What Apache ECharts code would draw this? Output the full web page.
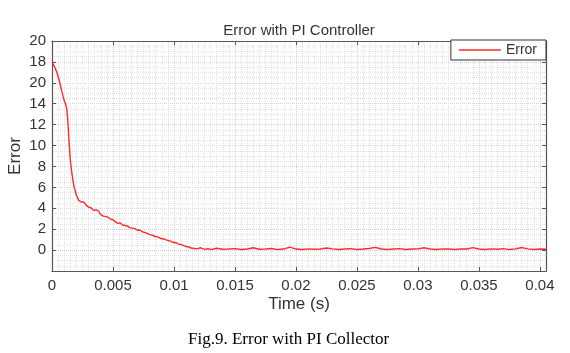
<!DOCTYPE html>
<html>
<head>
<meta charset="utf-8">
<script src="https://cdn.jsdelivr.net/npm/echarts@6/dist/echarts.min.js"></script>
<style>
html,body{margin:0;padding:0;background:#fff;}
#errChart{width:570px;height:353px;}
</style>
</head>
<body>
<div id="errChart"></div>
<script>
// data
var timeVals = [0, 0.0002, 0.0004, 0.0006, 0.0008, 0.001, 0.0011, 0.0012, 0.0013, 0.0014,
    0.0015, 0.0016, 0.0017, 0.0018, 0.0019,
    0.002, 0.0022, 0.0024, 0.0026, 0.0028, 0.003, 0.0032, 0.0034, 0.0036, 0.0038,
    0.004, 0.0042, 0.0044, 0.0046, 0.0048, 0.005, 0.0052, 0.0054, 0.0056, 0.0058,
    0.006, 0.0062, 0.0064, 0.0066, 0.0068, 0.007, 0.0072, 0.0074, 0.0076, 0.0078,
    0.008, 0.0082, 0.0084, 0.0086, 0.0088, 0.009, 0.0092, 0.0094, 0.0096, 0.0098,
    0.01, 0.0102, 0.0104, 0.0106, 0.0108, 0.011, 0.0112, 0.0114, 0.0116, 0.0118,
    0.012, 0.0122, 0.0124, 0.0126, 0.0128, 0.013,
    0.0135, 0.014, 0.0145, 0.015, 0.0155, 0.016, 0.0165, 0.017, 0.0175, 0.018,
    0.0185, 0.019, 0.0195, 0.02, 0.0205, 0.021, 0.0215, 0.022, 0.0225, 0.023,
    0.0235, 0.024, 0.0245, 0.025, 0.0255, 0.026, 0.0265, 0.027, 0.0275, 0.028,
    0.0285, 0.029, 0.0295, 0.03, 0.0305, 0.031, 0.0315, 0.032, 0.0325, 0.033,
    0.0335, 0.034, 0.0345, 0.035, 0.0355, 0.036, 0.0365, 0.037, 0.0375, 0.038,
    0.0385, 0.039, 0.0395, 0.04, 0.0405];
var errorVals = [18, 17.55, 17.0, 16.2, 15.2, 14.3, 14.0, 13.6, 12.3, 10.3,
    8.6, 7.6, 6.8, 6.1, 5.7,
    5.25, 4.75, 4.6, 4.6, 4.3, 4.1, 4.05, 3.8, 3.85, 3.75,
    3.4, 3.25, 3.2, 3.15, 2.95, 2.9, 2.7, 2.55, 2.6, 2.4,
    2.35, 2.3, 2.12, 2.1, 2.05, 1.9, 1.92, 1.75, 1.7, 1.6,
    1.48, 1.45, 1.32, 1.28, 1.2, 1.08, 1.06, 0.95, 0.9, 0.8,
    0.72, 0.7, 0.56, 0.52, 0.42, 0.34, 0.3, 0.2, 0.18, 0.12,
    0.16, 0.22, 0.12, 0.08, 0.14, 0.05,
    0.18, 0.08, 0.1, 0.14, 0.06, 0.1, 0.22, 0.08, 0.1, 0.15,
    0.05, 0.1, 0.28, 0.1, 0.06, 0.12, 0.08, 0.1, 0.2, 0.12,
    0.06, 0.1, 0.14, 0.06, 0.1, 0.15, 0.26, 0.1, 0.05, 0.1,
    0.14, 0.06, 0.1, 0.12, 0.22, 0.1, 0.06, 0.12, 0.1, 0.05,
    0.12, 0.1, 0.24, 0.1, 0.06, 0.12, 0.08, 0.14, 0.05, 0.12,
    0.25, 0.12, 0.06, 0.1, 0.08];
// y tick labels as printed in the figure (the 16 position reads "20")
var yTickVals = [0, 2, 4, 6, 8, 10, 12, 14, 16, 18, 20];
var yTickLabels = ['0', '2', '4', '6', '8', '10', '12', '14', '20', '18', '20'];
var xTickLabels = ['0', '0.005', '0.01', '0.015', '0.02', '0.025', '0.03', '0.035', '0.04'];

var seriesData = [];
for (var i = 0; i < timeVals.length; i++) {
    seriesData.push([timeVals[i], errorVals[i]]);
}

var chart = echarts.init(document.getElementById('errChart'), null, {renderer: 'canvas'});
var axisCol = '#555';
var font = 'Liberation Sans, Arial, sans-serif';

option = {
    animation: false,
    backgroundColor: '#fff',
    title: {
        text: 'Error with PI Controller',
        left: 294,
        top: 18,
        textAlign: 'center',
        textStyle: {fontFamily: font, fontSize: 15, fontWeight: 'normal', color: '#333'}
    },
    legend: {
        data: [{name: 'Error', icon: 'rect'}],
        right: 24,
        top: 40,
        orient: 'vertical',
        itemWidth: 42,
        itemHeight: 1.5,
        itemGap: 0,
        padding: [3, 9, 3, 8],
        borderColor: '#333',
        borderWidth: 1,
        borderRadius: 0,
        backgroundColor: '#fff',
        textStyle: {fontFamily: font, fontSize: 14, color: '#333', padding: [0, 0, 0, 0]}
    },
    grid: {left: 52, right: 24, top: 41, bottom: 82, containLabel: false, outerBoundsMode: 'none'},
    xAxis: [
        {
            type: 'value',
            min: 0,
            max: 0.0405,
            interval: 0.005,
            name: 'Time (s)',
            nameLocation: 'middle',
            nameGap: 25,
            nameMoveOverlap: false,
            nameTextStyle: {fontFamily: font, fontSize: 17, color: '#333'},
            axisLine: {show: true, onZero: false, lineStyle: {color: axisCol, width: 1.2}},
            axisTick: {show: true, inside: true, length: 4, lineStyle: {color: axisCol}},
            axisLabel: {
                margin: 7, fontFamily: font, fontSize: 15, color: '#333', showMaxLabel: false,
                formatter: function (v) {
                    var k = Math.round(v / 0.005);
                    return Math.abs(v - k * 0.005) < 1e-9 && xTickLabels[k] !== undefined ? xTickLabels[k] : '';
                }
            },
            splitLine: {show: true, lineStyle: {color: '#d4d4d4', type: 'dotted'}},
            minorTick: {show: false, splitNumber: 10},
            minorSplitLine: {show: true, lineStyle: {color: '#e2e2e2', type: 'dotted'}}
        },
        {
            type: 'value',
            position: 'top',
            min: 0,
            max: 0.0405,
            interval: 0.005,
            axisLine: {show: true, onZero: false, lineStyle: {color: axisCol, width: 1.2}},
            axisTick: {show: true, inside: true, length: 4, lineStyle: {color: axisCol}},
            axisLabel: {show: false},
            splitLine: {show: false}
        }
    ],
    yAxis: [
        {
            type: 'value',
            min: -2,
            max: 20,
            interval: 2,
            name: 'Error',
            nameLocation: 'middle',
            nameGap: 28,
            nameMoveOverlap: false,
            nameTextStyle: {fontFamily: font, fontSize: 17, color: '#333'},
            axisLine: {show: true, onZero: false, lineStyle: {color: axisCol, width: 1.2}},
            axisTick: {
                show: true, inside: true, length: 4, lineStyle: {color: axisCol},
                customValues: yTickVals
            },
            axisLabel: {
                margin: 6, fontFamily: font, fontSize: 15, color: '#333',
                customValues: yTickVals,
                formatter: function (v) {
                    var idx = yTickVals.indexOf(Math.round(v));
                    return idx >= 0 ? yTickLabels[idx] : '';
                }
            },
            splitLine: {show: true, lineStyle: {color: '#d4d4d4', type: 'dotted'}},
            minorTick: {show: false, splitNumber: 4},
            minorSplitLine: {show: true, lineStyle: {color: '#e2e2e2', type: 'dotted'}}
        },
        {
            type: 'value',
            position: 'right',
            min: -2,
            max: 20,
            interval: 2,
            axisLine: {show: true, onZero: false, lineStyle: {color: axisCol, width: 1.2}},
            axisTick: {show: true, inside: true, length: 4, lineStyle: {color: axisCol}, customValues: yTickVals},
            axisLabel: {show: false},
            splitLine: {show: false}
        }
    ],
    series: [
        {
            name: 'Error',
            type: 'line',
            xAxisIndex: 0,
            yAxisIndex: 0,
            data: seriesData,
            symbol: 'none',
            smooth: false,
            lineStyle: {color: '#ff2a2a', width: 1.4},
            itemStyle: {color: '#ff2a2a'}
        }
    ],
    graphic: [
        {
            type: 'text',
            left: 188,
            top: 331,
            style: {
                text: 'Fig.9. Error with PI Collector',
                fontFamily: 'Liberation Serif, Times New Roman, serif',
                fontSize: 17,
                fill: '#000'
            }
        }
    ]
};

chart.setOption(option);
</script>
</body>
</html>
